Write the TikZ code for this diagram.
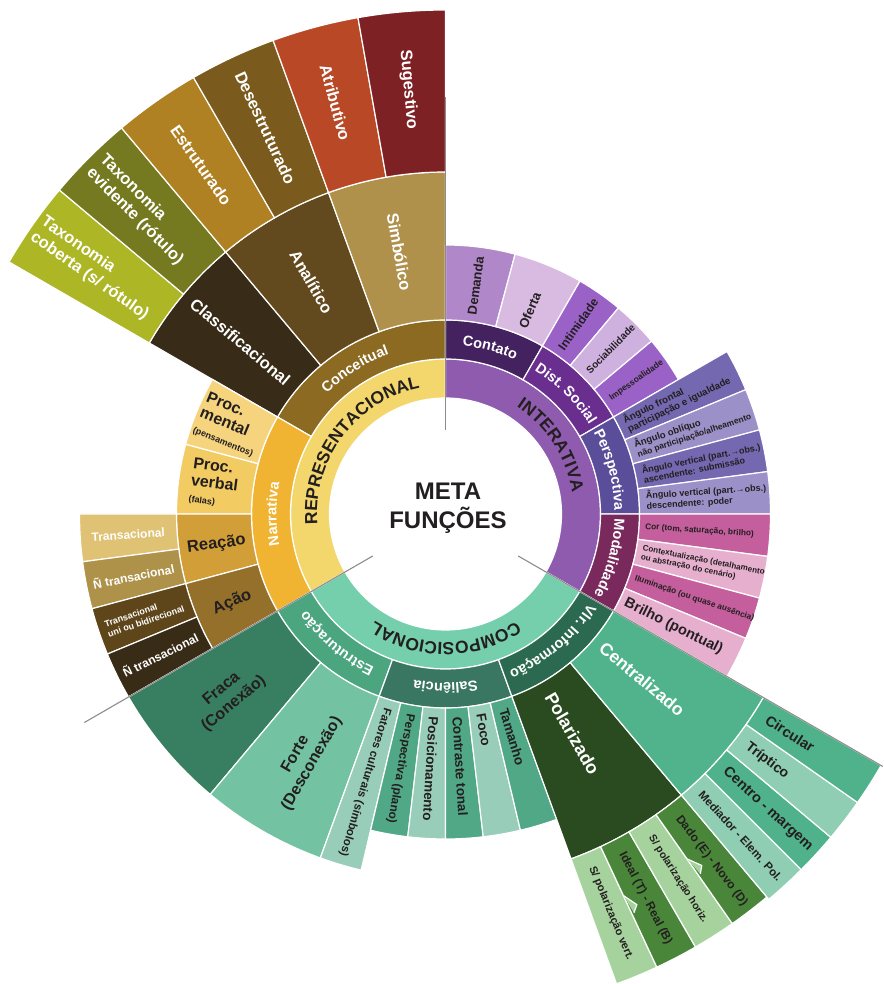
\documentclass[tikz,border=0pt]{standalone}
\usepackage{fontspec}
\setmainfont{Liberation Sans}
\usetikzlibrary{decorations.text}

\definecolor{ink}{HTML}{231F20}
\definecolor{gline}{HTML}{8C8C8C}
\definecolor{repY}{HTML}{F4D76C}
\definecolor{intP}{HTML}{8F5BAE}
\definecolor{comG}{HTML}{75CFAC}
\definecolor{conc}{HTML}{8C6A22}
\definecolor{narr}{HTML}{F0B432}
\definecolor{cont}{HTML}{43225F}
\definecolor{dist}{HTML}{6A2E8E}
\definecolor{persp}{HTML}{5A4D99}
\definecolor{moda}{HTML}{7A295D}
\definecolor{estr}{HTML}{4BA57F}
\definecolor{sal}{HTML}{3A7762}
\definecolor{vlr}{HTML}{2B6A50}
\definecolor{classif}{HTML}{382B17}
\definecolor{anal}{HTML}{634A1E}
\definecolor{simb}{HTML}{B0914B}
\definecolor{taxc}{HTML}{ADB624}
\definecolor{taxe}{HTML}{757A20}
\definecolor{estd}{HTML}{B08122}
\definecolor{desd}{HTML}{7A5A1D}
\definecolor{atri}{HTML}{B94926}
\definecolor{suge}{HTML}{7E2124}
\definecolor{pmen}{HTML}{F6D47E}
\definecolor{pver}{HTML}{F3CB63}
\definecolor{reac}{HTML}{D29E38}
\definecolor{acao}{HTML}{94702A}
\definecolor{trans}{HTML}{DFC273}
\definecolor{ntrA}{HTML}{AF924A}
\definecolor{tuni}{HTML}{5E461A}
\definecolor{ntrB}{HTML}{392C17}
\definecolor{dema}{HTML}{B087C8}
\definecolor{ofer}{HTML}{D9BAE1}
\definecolor{inti}{HTML}{9A62C7}
\definecolor{soci}{HTML}{CFB1DF}
\definecolor{angA}{HTML}{7468B1}
\definecolor{angB}{HTML}{9C90C8}
\definecolor{modA}{HTML}{C45E9C}
\definecolor{modB}{HTML}{E6AFCE}
\definecolor{frac}{HTML}{377F60}
\definecolor{fort}{HTML}{73C2A2}
\definecolor{salL}{HTML}{98CDB9}
\definecolor{salD}{HTML}{50A887}
\definecolor{pola}{HTML}{2A4A20}
\definecolor{cent}{HTML}{50B38B}
\definecolor{polL}{HTML}{A6D39D}
\definecolor{polD}{HTML}{4A863A}
\definecolor{cenL}{HTML}{8FCEB3}
\definecolor{cenD}{HTML}{4FB28A}

\newcommand{\fsz}[2]{\fontsize{#1}{#2}\selectfont}
% one piece of a ring: colour, start, end, inner and outer radius
\newcommand{\ringpart}[5]{%
  \draw [piece, fill=#1] (#2:#4pt) arc [start angle=#2, end angle=#3, radius=#4pt]
    -- (#3:#5pt) arc [start angle=#3, end angle=#2, radius=#5pt] -- cycle;}
% text bent along a ring, centred on an angle
\newcommand{\ringtext}[3]{%
  \pgfmathsetmacro{\txa}{#2+50}\pgfmathsetmacro{\txb}{#2-50}%
  \path [decorate, decoration={text along path, text align=center, text={#1}}]
    (\txa:#3pt) arc [start angle=\txa, end angle=\txb, radius=#3pt];}

\tikzset{
  piece/.style={draw=white, line width=1.2pt},
  lab/.style={inner sep=0pt, align=center},
  gray line/.style={draw=gline, line width=1.1pt},
}

\begin{document}
\begin{tikzpicture}
    \useasboundingbox (-445.5pt, -470pt) rectangle (437.5pt, 514pt);

    % rings
    \foreach \c/\a/\b/\ri/\ro in {
        repY/90/210/116/155, intP/-30/90/116/155, comG/210/330/116/155,
        conc/90/150/155/194, narr/150/210/155/194, cont/60/90/155/194,
        dist/30/60/155/194, persp/0/30/155/194, moda/-30/0/155/194,
        estr/210/250/155/194, sal/250/290/155/194, vlr/290/330/155/194,
        classif/130/150/194/342, anal/110/130/194/342, simb/90/110/194/342,
        taxc/140/150/342/504, taxe/130/140/342/504, estd/120/130/342/504,
        desd/110/120/342/504, atri/100/110/342/504, suge/90/100/342/504,
        pmen/150/165/194/269, pver/165/180/194/269, reac/180/195/194/269, acao/195/210/194/269,
        trans/180/187.5/269/366, ntrA/187.5/195/269/366, tuni/195/202.5/269/366, ntrB/202.5/210/269/366,
        dema/75/90/194/269, ofer/60/75/194/269, inti/50/60/194/269, soci/40/50/194/269, inti/30/40/194/269,
        angA/22.5/30/194/325, angB/15/22.5/194/325, angA/7.5/15/194/325, angB/0/7.5/194/325,
        modA/-7.5/0/194/325, modB/-15/-7.5/194/325, modA/-22.5/-15/194/325, modB/-30/-22.5/194/325,
        frac/210/230/194/366, fort/230/250/194/366,
        salL/250/256.67/194/366, salD/256.67/263.33/194/325, salL/263.33/270/194/325,
        salD/270/276.67/194/325, salL/276.67/283.33/194/325, salD/283.33/290/194/325,
        pola/290/310/194/367, cent/310/330/194/367,
        polL/290/295/367/500, polD/295/300/367/500, polL/300/305/367/500, polD/305/310/367/500,
        cenL/310/315/367/503, cenD/315/320/367/503, cenL/320/325/367/503, cenD/325/330/367/503}
        {\ringpart{\c}{\a}{\b}{\ri}{\ro}}

    % small teeth on two borders
    \draw [piece, fill=polL] (295:421pt) -- (296.1:435pt) -- (295.3:441pt);
    \draw [piece, fill=polL] (305:421pt) -- (306.1:435pt) -- (305.3:441pt);

    % dividing lines
    \draw [gray line] (90:84pt) -- (90:417pt);
    \draw [gray line] (210:84pt) -- (210:417pt);
    \draw [gray line] (-30:84pt) -- (-30:505pt);

    \node [lab, text=ink, font=\bfseries\fsz{24}{29}] (meta) at (2.5pt, 6pt) {META\\FUNÇÕES};

    % inner ring
    \ringtext{|\color{ink}\bfseries\fsz{17.5}{18}|REPRESENTACIONAL}{143}{128.5}
    \ringtext{|\color{ink}\bfseries\fsz{17.5}{18}|INTERATIVA}{33}{128.5}
    \ringtext{|\color{ink}\bfseries\fsz{17.5}{18}|COMPOSICIONAL}{270}{128.5}

    % second ring
    \ringtext{|\color{white}\bfseries\fsz{14.5}{15}|Conceitual}{122}{169}
    \ringtext{|\color{white}\bfseries\fsz{14.5}{15}|Narrativa}{180}{169}
    \ringtext{|\color{white}\bfseries\fsz{14.5}{15}|Contato}{75}{169}
    \ringtext{|\color{white}\bfseries\fsz{14.5}{15}|Dist. Social}{45}{169}
    \ringtext{|\color{white}\bfseries\fsz{14.5}{15}|Perspectiva}{15}{169}
    \ringtext{|\color{white}\bfseries\fsz{14.5}{15}|Modalidade}{-15}{169}
    \ringtext{|\color{white}\bfseries\fsz{14.5}{15}|Estruturação}{230}{169}
    \ringtext{|\color{white}\bfseries\fsz{14.5}{15}|Saliência}{270}{169}
    \ringtext{|\color{white}\bfseries\fsz{14.5}{15}|Vlr. Informação}{310}{169}

    % conceitual
    \node [lab, text=white, font=\bfseries\fsz{16.5}{19}, rotate=-40] (classifL) at (140:268pt) {Classificacional};
    \node [lab, text=white, font=\bfseries\fsz{16.5}{19}, rotate=-60] (analL) at (120:268pt) {Analítico};
    \node [lab, text=white, font=\bfseries\fsz{16.5}{19}, rotate=-80] (simbL) at (100:266pt) {Simbólico};
    \node [lab, text=white, font=\bfseries\fsz{16.5}{19}, align=left, rotate=-35] (taxcL) at (145:428pt) {Taxonomia\\coberta (s/ rótulo)};
    \node [lab, text=white, font=\bfseries\fsz{16.5}{19}, align=left, rotate=-45] (taxeL) at (135:430pt) {Taxonomia\\evidente (rótulo)};
    \node [lab, text=white, font=\bfseries\fsz{16.5}{19}, rotate=-55] (estdL) at (125:426pt) {Estruturado};
    \node [lab, text=white, font=\bfseries\fsz{16.5}{19}, rotate=-65] (desdL) at (115:426pt) {Desestruturado};
    \node [lab, text=white, font=\bfseries\fsz{16.5}{19}, rotate=-75] (atriL) at (105:426pt) {Atributivo};
    \node [lab, text=white, font=\bfseries\fsz{16.5}{19}, rotate=-85] (sugeL) at (95:426pt) {Sugestivo};

    % narrativa
    \node [lab, text=ink, font=\bfseries\fsz{16}{17}, align=left, rotate=-22.5] (pmenL) at (157.5:233pt) {Proc.\\mental\\{\fsz{9}{10}(pensamentos)}};
    \node [lab, text=ink, font=\bfseries\fsz{16}{17}, align=left, rotate=-7.5] (pverL) at (172.5:233pt) {Proc.\\verbal\\{\fsz{9}{12}(falas)}};
    \node [lab, text=ink, font=\bfseries\fsz{16.5}{17}, rotate=7.5] (reacL) at (187.5:231pt) {Reação};
    \node [lab, text=ink, font=\bfseries\fsz{16.5}{17}, rotate=22.5] (acaoL) at (202.5:231pt) {Ação};
    \node [lab, text=white, font=\bfseries\fsz{12}{13}, rotate=3.75] (transL) at (183.75:318pt) {Transacional};
    \node [lab, text=white, font=\bfseries\fsz{12}{13}, rotate=11.25] (ntrAL) at (191.25:318pt) {Ñ transacional};
    \node [lab, text=white, font=\bfseries\fsz{9}{10.5}, align=left, rotate=18.75] (tuniL) at (198.75:318pt) {Transacional\\uni ou bidirecional};
    \node [lab, text=white, font=\bfseries\fsz{12}{13}, rotate=26.25] (ntrBL) at (206.25:318pt) {Ñ transacional};

    % interativa
    \node [lab, text=ink, anchor=west, font=\bfseries\fsz{13}{13}, rotate=82.5] (demaL) at (82.5:201pt) {Demanda};
    \node [lab, text=ink, anchor=west, font=\bfseries\fsz{13}{13}, rotate=67.5] (oferL) at (67.5:201pt) {Oferta};
    \node [lab, text=ink, anchor=west, font=\bfseries\fsz{12}{12}, rotate=55] (intiL) at (55:201pt) {Intimidade};
    \node [lab, text=ink, anchor=west, font=\bfseries\fsz{10}{10}, rotate=45] (sociL) at (45:201pt) {Sociabilidade};
    \node [lab, text=ink, anchor=west, font=\bfseries\fsz{8.5}{9}, rotate=35] (impeL) at (35:201pt) {Impessoalidade};
    \node [lab, text=ink, anchor=west, align=left, font=\bfseries\fsz{9.7}{10.5}, rotate=26.25] (angAL) at (26.25:201pt) {Ângulo frontal\\participação e igualdade};
    \node [lab, text=ink, anchor=west, align=left, font=\bfseries\fsz{9.5}{10}, rotate=18.75] (angBL) at (18.75:201pt) {Ângulo oblíquo\\{\fsz{8.5}{9}não participiação/alheamento}};
    \node [lab, text=ink, anchor=west, align=left, font=\bfseries\fsz{9}{10.5}, rotate=11.25] (angCL) at (11.25:201pt) {Ângulo vertical (part.→obs.)\\ascendente: submissão};
    \node [lab, text=ink, anchor=west, align=left, font=\bfseries\fsz{9}{10.5}, rotate=3.75] (angDL) at (3.75:201pt) {Ângulo vertical (part.→obs.)\\descendente: poder};
    \node [lab, text=ink, anchor=west, font=\bfseries\fsz{8.3}{9}, rotate=-3.75] (corL) at (-3.75:200pt) {Cor (tom, saturação, brilho)};
    \node [lab, text=ink, anchor=west, align=left, font=\bfseries\fsz{8.1}{9.5}, rotate=-11.25] (ctxL) at (-11.25:200pt) {Contextualização (detalhamento\\ou abstração do cenário)};
    \node [lab, text=ink, anchor=west, font=\bfseries\fsz{8.3}{9}, rotate=-18.75] (ilumL) at (-18.75:200pt) {Iluminação (ou quase ausência)};
    \node [lab, text=ink, anchor=west, font=\bfseries\fsz{14.5}{15}, rotate=-26.25] (brilL) at (-26.25:200pt) {Brilho (pontual)};

    % composicional
    \node [lab, text=ink, font=\bfseries\fsz{16}{19}, rotate=40] (fracL) at (220:284pt) {Fraca\\(Conexão)};
    \node [lab, text=ink, font=\bfseries\fsz{16}{19}, rotate=60] (fortL) at (240:283pt) {Forte\\(Desconexão)};
    \node [lab, text=ink, anchor=west, font=\bfseries\fsz{11.5}{12}, rotate=-106.67] (fatL) at (253.33:203pt) {Fatores culturais (símbolos)};
    \node [lab, text=ink, anchor=west, font=\bfseries\fsz{12}{12}, rotate=-100] (perL) at (260:203pt) {Perspectiva (plano)};
    \node [lab, text=ink, anchor=west, font=\bfseries\fsz{13.5}{14}, rotate=-93.33] (posL) at (266.67:203pt) {Posicionamento};
    \node [lab, text=ink, anchor=west, font=\bfseries\fsz{13.5}{14}, rotate=-86.67] (ctrL) at (273.33:203pt) {Contraste tonal};
    \node [lab, text=ink, anchor=west, font=\bfseries\fsz{13.5}{14}, rotate=-80] (focL) at (280:203pt) {Foco};
    \node [lab, text=ink, anchor=west, font=\bfseries\fsz{13.5}{14}, rotate=-73.33] (tamL) at (286.67:203pt) {Tamanho};
    \node [lab, text=white, anchor=west, font=\bfseries\fsz{18}{18}, rotate=-60] (polaL) at (300:208pt) {Polarizado};
    \node [lab, text=white, anchor=west, font=\bfseries\fsz{17.5}{18}, rotate=-40] (centL) at (320:204pt) {Centralizado};
    \node [lab, text=ink, anchor=west, font=\bfseries\fsz{11}{12}, rotate=-67.5] (spvL) at (292.5:382pt) {S/ polarização vert.};
    \node [lab, text=ink, anchor=west, font=\bfseries\fsz{12}{12}, rotate=-62.5] (ideL) at (297.5:382pt) {Ideal (T) - Real (B)};
    \node [lab, text=ink, anchor=west, font=\bfseries\fsz{10.5}{11}, rotate=-57.5] (sphL) at (302.5:382pt) {S/ polarização horiz.};
    \node [lab, text=ink, anchor=west, font=\bfseries\fsz{12}{12}, rotate=-52.5] (dadL) at (307.5:382pt) {Dado (E) - Novo (D)};
    \node [lab, text=ink, anchor=west, font=\bfseries\fsz{11.5}{12}, rotate=-47.5] (medL) at (312.5:378pt) {Mediador - Elem. Pol.};
    \node [lab, text=ink, anchor=west, font=\bfseries\fsz{14.5}{15}, rotate=-42.5] (cmgL) at (317.5:379pt) {Centro - margem};
    \node [lab, text=ink, anchor=west, font=\bfseries\fsz{14}{15}, rotate=-37.5] (triL) at (322.5:380pt) {Tríptico};
    \node [lab, text=ink, anchor=west, font=\bfseries\fsz{14.5}{15}, rotate=-32.5] (cirL) at (327.5:381pt) {Circular};
\end{tikzpicture}
\end{document}
